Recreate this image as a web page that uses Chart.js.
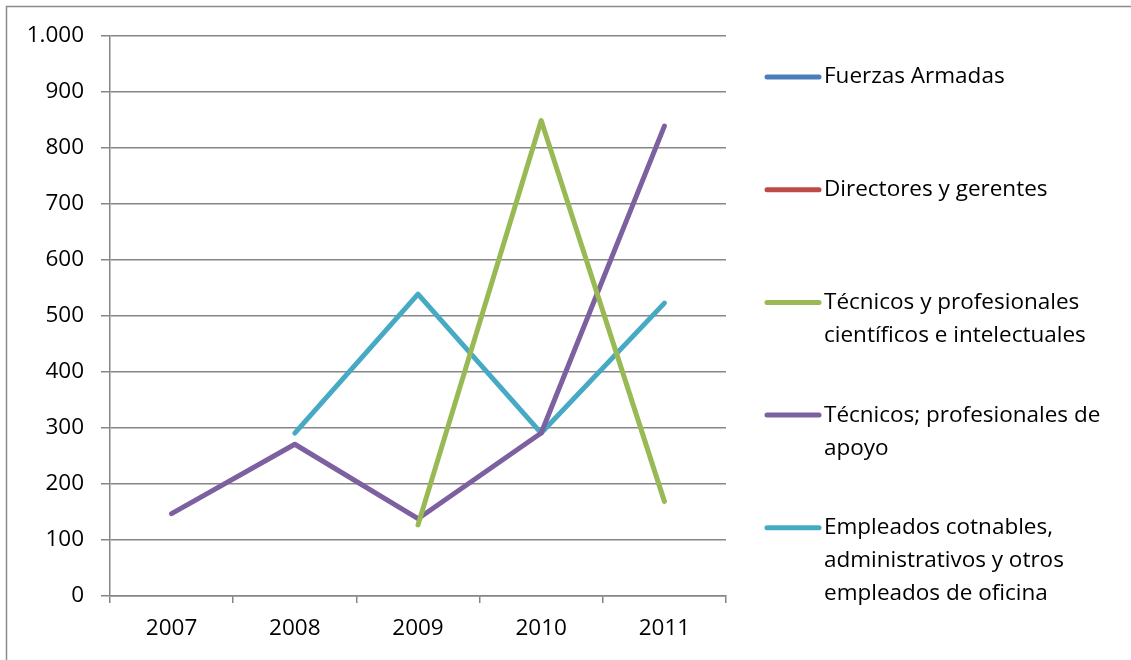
<!DOCTYPE html>
<html>
<head>
<meta charset="utf-8">
<script src="https://cdn.jsdelivr.net/npm/chart.js@4/dist/chart.umd.min.js"></script>
<style>
  html, body { margin: 0; padding: 0; background: #fff; }
  #wrap { position: relative; width: 1131px; height: 660px; }
</style>
</head>
<body>
<div id="wrap"><canvas id="chart" width="1131" height="660"></canvas></div>
<script>
// Data
const years = ['2007', '2008', '2009', '2010', '2011'];
const fuerzasArmadas = [null, null, null, null, null];
const directores = [null, null, null, null, null];
const tecnicosCientificos = [null, null, 127, 849, 169];
const tecnicosApoyo = [147, 271, 138, 291, 839];
const empleadosOficina = [null, 291, 539, 291, 523];

const seriesNames = [
  'Fuerzas Armadas',
  'Directores y gerentes',
  'Técnicos y profesionales científicos e intelectuales',
  'Técnicos; profesionales de apoyo',
  'Empleados cotnables, administrativos y otros empleados de oficina',
];
// wrapped legend text, as in the picture
const legendLines = [
  ['Fuerzas Armadas'],
  ['Directores y gerentes'],
  ['Técnicos y profesionales', 'científicos e intelectuales'],
  ['Técnicos; profesionales de', 'apoyo'],
  ['Empleados cotnables,', 'administrativos y otros', 'empleados de oficina'],
];
const seriesColors = ['#4A7EBB', '#BE4B48', '#98B954', '#7D60A0', '#46AAC5'];
const seriesData = [fuerzasArmadas, directores, tecnicosCientificos, tecnicosApoyo, empleadosOficina];

const FONT = "'Open Sans', sans-serif";
const gridColor = '#868686';

// Frame + legend drawn on the canvas
const excelLegend = {
  id: 'excelLegend',
  beforeDraw(c) {
    const ctx = c.ctx;
    ctx.save();
    ctx.strokeStyle = '#8c8c8c';
    ctx.lineWidth = 1.5;
    ctx.beginPath();
    ctx.moveTo(6.5, 660);
    ctx.lineTo(6.5, 6.5);
    ctx.lineTo(1131, 6.5);
    ctx.stroke();
    ctx.restore();
  },
  afterDraw(c) {
    const ctx = c.ctx;
    ctx.save();
    ctx.font = '22.5px ' + FONT;
    ctx.textBaseline = 'middle';
    ctx.fillStyle = '#000';
    legendLines.forEach((lines, i) => {
      const y = 77 + i * 112.7;
      ctx.strokeStyle = seriesColors[i];
      ctx.lineWidth = 5;
      ctx.lineCap = 'round';
      ctx.beginPath();
      ctx.moveTo(767, y);
      ctx.lineTo(819, y);
      ctx.stroke();
      lines.forEach((t, j) => ctx.fillText(t, 824, y + j * 33));
    });
    ctx.restore();
  },
};

new Chart(document.getElementById('chart'), {
  type: 'line',
  data: {
    labels: years,
    datasets: seriesData.map((d, i) => ({
      label: seriesNames[i],
      data: d,
      borderColor: seriesColors[i],
      backgroundColor: seriesColors[i],
      borderWidth: 5,
      borderCapStyle: 'round',
      borderJoinStyle: 'round',
      pointRadius: 0,
      tension: 0,
      spanGaps: false,
    })),
  },
  options: {
    responsive: false,
    animation: false,
    layout: {
      padding: { top: 36, right: 405, bottom: 0, left: 0 },
    },
    plugins: {
      legend: { display: false },
      tooltip: { enabled: false },
    },
    scales: {
      x: {
        offset: true,
        afterFit(s) { s.height = 64; },
        grid: {
          offset: true,
          drawOnChartArea: false,
          color: gridColor,
          tickLength: 7,
          lineWidth: 1.5,
        },
        border: { color: gridColor, width: 1.5 },
        ticks: {
          color: '#000',
          font: { family: FONT, size: 22.5 },
          padding: 12,
          maxRotation: 0,
        },
      },
      y: {
        min: 0,
        max: 1000,
        afterFit(s) { s.width = 110; },
        grid: {
          color: gridColor,
          tickLength: 9,
          lineWidth: 1.5,
        },
        border: { color: gridColor, width: 1.5 },
        ticks: {
          stepSize: 100,
          color: '#000',
          font: { family: FONT, size: 22.5 },
          padding: 17,
          callback: (v) => v.toLocaleString('de-DE'),
        },
      },
    },
  },
  plugins: [excelLegend],
});
</script>
</body>
</html>
